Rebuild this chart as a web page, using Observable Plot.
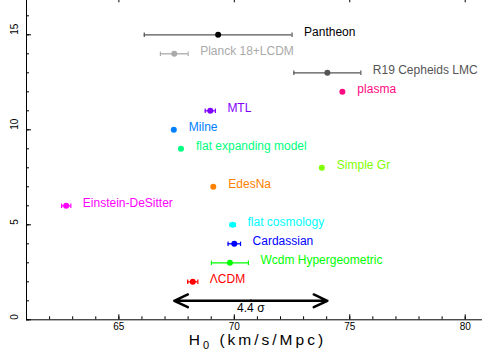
<!DOCTYPE html>
<html><head><meta charset="utf-8">
<script src="https://cdn.jsdelivr.net/npm/d3@7"></script>
<script src="https://cdn.jsdelivr.net/npm/@observablehq/plot@0.6"></script>
<style>body{margin:0;background:#fff} svg{display:block}</style>
</head><body><div id="chart"></div>
<script>
// ---- data ----
const names = ["Pantheon","Planck 18+LCDM","R19 Cepheids LMC","plasma","MTL","Milne","flat expanding model","Simple Gr","EdesNa","Einstein-DeSitter","flat cosmology","Cardassian","Wcdm Hypergeometric","ΛCDM"];
const rows = [15,14,13,12,11,10,9,8,7,6,5,4,3,2];
const h0 = [69.3,67.4,74.03,74.68,68.96,67.38,67.69,73.79,69.09,62.72,69.93,70.0,69.81,68.2];
const h0Err = [3.2,0.6,1.45,0,0.22,0,0,0,0,0.2,0.12,0.27,0.8,0.22];
const dotColors = ["#000000","#aaaaaa","#555555","#ff0a80","#8000ff","#0080ff","#00ff80","#80ff00","#ff8000","#ff00ff","#00ffff","#0000ff","#00ff00","#ff0000"];
const barColors = ["#555555","#aaaaaa","#555555","#ff0a80","#8000ff","#0080ff","#00ff80","#80ff00","#ff8000","#ff00ff","#00ffff","#0000ff","#00ff00","#ff0000"];
const tensionFrom = 67.4, tensionTo = 74.03, tensionRow = 1, tensionLabel = "4.4 σ";
const xMajor = [65,70,75,80];
const yMajor = [0,5,10,15];
const xTitleParts = ["H","0"," (km/s/Mpc)"];

const data = names.map((n,i)=>({name:n, y:rows[i], x:h0[i], lo:h0[i]-h0Err[i], hi:h0[i]+h0Err[i], err:h0Err[i], color:dotColors[i], bar:barColors[i]}));
const withErr = data.filter(d=>d.err>0);
const noErr = data.filter(d=>d.err===0);
const mid = (tensionFrom+tensionTo)/2;
const arrows = [{a:mid,b:tensionFrom,y:tensionRow},{a:mid,b:tensionTo,y:tensionRow}];
const capSym = {draw(ctx,size){const h=Math.sqrt(size/Math.PI); ctx.moveTo(0,-h); ctx.lineTo(0,h);}};

const plot = Plot.plot({
  width:482, height:360,
  marginLeft:26, marginRight:-5.8, marginTop:-3.7, marginBottom:40.7,
  x:{domain:[61,81]}, y:{domain:[0,17]},
  color:{type:"identity"},
  style:{fontFamily:"'Liberation Sans', Arial, sans-serif", fontSize:"12px", background:"white", color:"black"},
  marks:[
    Plot.frame({stroke:"black"}),
    Plot.axisX({anchor:"bottom", ticks:xMajor, tickSize:-5, tickPadding:8, fontSize:10, label:null}),
    Plot.axisX({anchor:"bottom", ticks:d3.range(61,82), tickSize:-3, tickFormat:()=>"", label:null}),
    Plot.axisX({anchor:"top", ticks:xMajor, tickSize:-5, tickFormat:()=>"", label:null}),
    Plot.axisY({anchor:"left", ticks:yMajor, tickSize:-5, tickFormat:()=>"", label:null}),
    Plot.axisY({anchor:"left", ticks:d3.range(0,18), tickSize:-3, tickFormat:()=>"", label:null}),
    Plot.text(yMajor, {y:d=>d, frameAnchor:"left", text:d=>String(d), rotate:-90, dx:-12, fontSize:10, fill:"black"}),
    Plot.text([xTitleParts.join("")], {frameAnchor:"bottom", text:d=>d, dy:25, fontSize:15.5, fill:"black", className:"xtitle"}),
    Plot.ruleY(withErr, {y:"y", x1:"lo", x2:"hi", stroke:"bar", strokeWidth:1.3}),
    Plot.dot(withErr, {x:"lo", y:"y", symbol:capSym, r:2.2, stroke:"bar", fill:"none", strokeWidth:1.2}),
    Plot.dot(withErr, {x:"hi", y:"y", symbol:capSym, r:2.2, stroke:"bar", fill:"none", strokeWidth:1.2}),
    Plot.dot(data, {x:"x", y:"y", r:3, fill:"color", stroke:"none"}),
    Plot.text(withErr, {x:"hi", y:"y", text:"name", fill:"color", textAnchor:"start", dx:12, dy:-2.5, fontSize:12}),
    Plot.text(noErr, {x:"x", y:"y", text:"name", fill:"color", textAnchor:"start", dx:15, dy:-2.5, fontSize:12}),
    Plot.arrow(arrows, {x1:"a", x2:"b", y1:"y", y2:"y", stroke:"black", strokeWidth:2.5, headLength:9, headAngle:50}),
    Plot.text([tensionLabel], {x:()=>mid, y:()=>tensionRow, text:d=>d, dy:7, fontSize:12, fill:"black"})
  ]
});
const t = d3.select(plot).select("g.xtitle text");
t.text(null).attr("letter-spacing","3px");
t.append("tspan").text(xTitleParts[0]);
t.append("tspan").attr("font-size",11).attr("dy",4).text(xTitleParts[1]);
t.append("tspan").attr("dy",-4).text(xTitleParts[2]);
document.getElementById("chart").appendChild(plot);
</script>
</body></html>
